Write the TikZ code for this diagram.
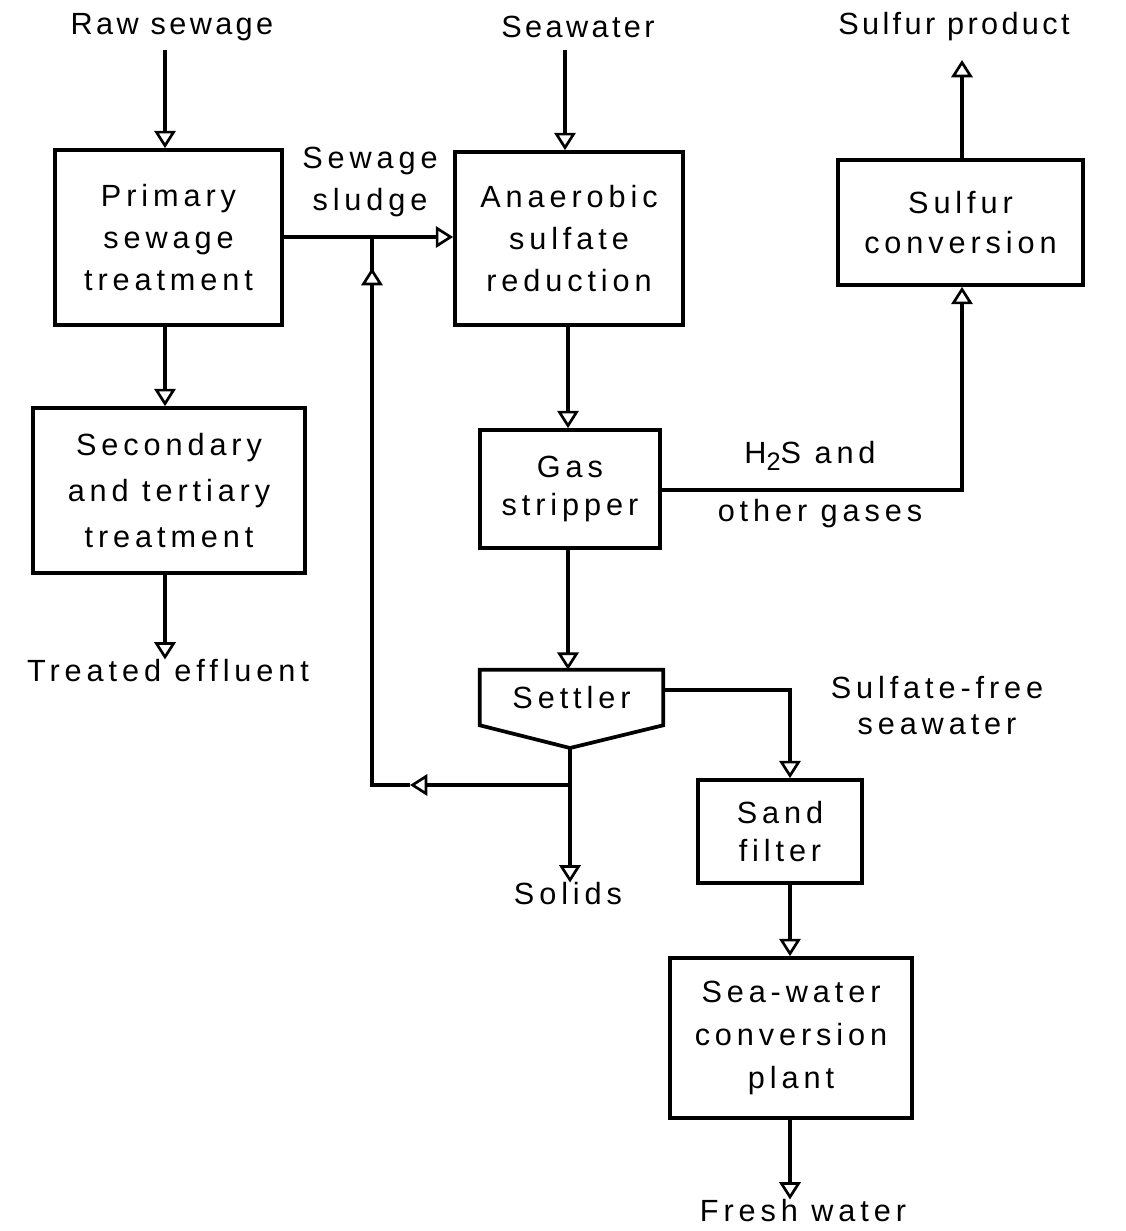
\documentclass[tikz,border=0pt]{standalone}
\usepackage{fontspec}
\setmainfont[LetterSpace=16]{Liberation Sans}
\newfontfamily\titlefont[LetterSpace=11]{Liberation Sans}
\usetikzlibrary{arrows.meta}
\begin{document}
\begin{tikzpicture}[x=0.75pt,y=-0.75pt,
  font=\fontsize{23}{31.5}\selectfont,
  proc/.style={draw,line width=2.8pt,inner sep=0pt,align=center},
  lbl/.style={inner sep=0pt,align=center},
  flow/.style={line width=2.4pt,-{Triangle[length=13pt,width=16pt,fill=white,line width=2pt]}},
  line/.style={line width=2.4pt}]
\useasboundingbox (0,0) rectangle (1125,1231);
% boxes
\node[proc,minimum width=170.25pt,minimum height=131.25pt] (prim) at (168.5,237.5) {Primary\\sewage\\treatment};
\node[proc,minimum width=204pt,minimum height=123.75pt,font=\fontsize{23}{34.5}\selectfont] (sec) at (169,490.5) {Secondary\\and tertiary\\treatment};
\node[proc,minimum width=171pt,minimum height=129.75pt] (anaer) at (569,238.5) {Anaerobic\\sulfate\\reduction};
\node[proc,minimum width=135pt,minimum height=88.5pt,font=\fontsize{23}{28.5}\selectfont] (gas) at (570,489) {Gas\\stripper};
\node[proc,minimum width=183.75pt,minimum height=93.75pt,font=\fontsize{23}{30}\selectfont] (sulf) at (960.5,222.5) {Sulfur\\conversion};
\node[proc,minimum width=123pt,minimum height=77.25pt,font=\fontsize{23}{28}\selectfont] (sand) at (780,831.5) {Sand\\filter};
\node[proc,minimum width=181.5pt,minimum height=120pt,font=\fontsize{23}{32.5}\selectfont] (conv) at (791,1038) {Sea-water\\conversion\\plant};
% settler
\node[inner sep=0pt,minimum width=137.25pt,minimum height=41.25pt] (settler) at (571.5,697.5) {Settler};
\coordinate (setbot) at (570,748);
\draw[line width=2.8pt,line join=miter] (settler.north west) -- (settler.north east) -- (settler.south east) -- (setbot) -- (settler.south west) -- cycle;
% labels
\node[lbl,font=\titlefont\fontsize{23}{31.5}\selectfont] (raw) at (172,27) {Raw sewage};
\node[lbl,font=\titlefont\fontsize{23}{31.5}\selectfont] (sea) at (578,27) {Seawater};
\node[lbl,anchor=west,font=\titlefont\fontsize{23}{31.5}\selectfont] (sprod) at (838,27) {Sulfur product};
\node[lbl] (sludge) at (370,182) {Sewage\\sludge};
\node[lbl] (h2s) at (810,456) {H\raisebox{-0.4ex}{\fontsize{19}{19}\selectfont 2}S and};
\node[lbl] (other) at (820,514) {other gases};
\node[lbl,font=\fontsize{23}{27}\selectfont] (sfree) at (937,706) {Sulfate-free\\seawater};
\node[lbl] (eff) at (168,671) {Treated effluent};
\node[lbl] (solids) at (568,894) {Solids};
\node[lbl] (fresh) at (803,1211) {Fresh water};
% coordinates
\coordinate (jn) at (372,237);
\coordinate (fbc) at (372,785);
% connectors
\draw[flow] (165,50) -- (prim.north -| 165,0);
\draw[flow] (565,50) -- (anaer.north -| 565,0);
\draw[flow] (prim.east |- jn) -- (anaer.west |- jn);
\draw[flow] (prim.south -| 165,0) -- (sec.north -| 165,0);
\draw[flow] (sec.south -| 165,0) -- (eff.north -| 165,0);
\draw[flow] (anaer.south -| 568,0) -- (gas.north -| 568,0);
\draw[flow] (gas.east |- 0,490) -| (sulf.south -| 962,0);
\draw[flow] (sulf.north -| 962,0) -- (962,60);
\draw[flow] (gas.south -| 568,0) -- (settler.north -| 568,0);
\draw[flow] (settler.east |- 0,690) -| (sand.north -| 790,0);
\draw[flow] (sand.south -| 790,0) -- (conv.north -| 790,0);
\draw[flow] (conv.south -| 790,0) -- (fresh.north -| 790,0);
\draw[flow] (setbot) -- (solids.north -| setbot);
% feedback with mid arrows
\draw[line] (410,785) -- (fbc) -- (372,268);
\draw[line] (372,268) -- (jn);
\draw[flow] (setbot |- fbc) -- (410,785);
\draw[flow] (372,300) -- (372,268);
\end{tikzpicture}
\end{document}
